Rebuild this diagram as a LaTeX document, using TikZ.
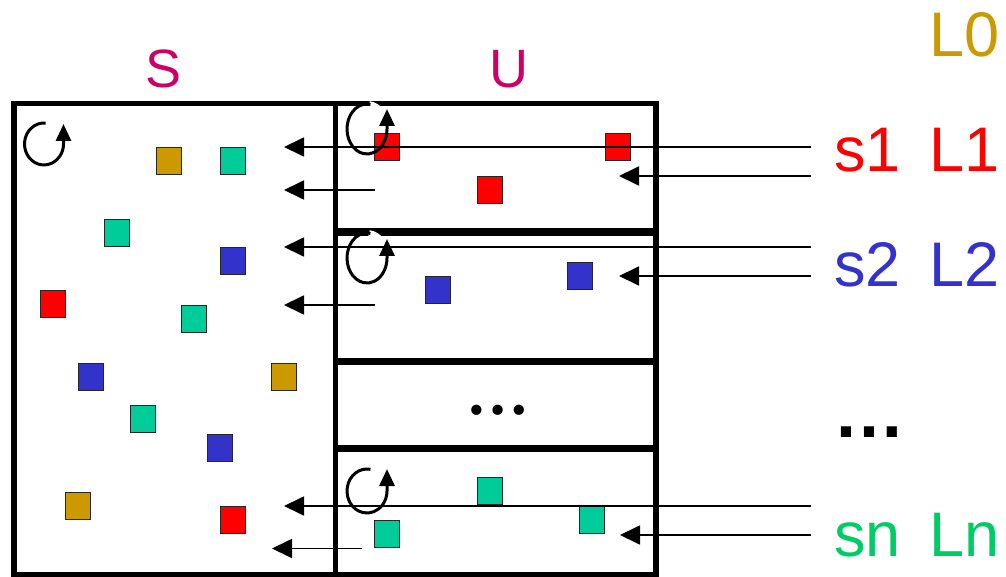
\documentclass[tikz,border=0pt]{standalone}
\usepackage{fontspec}
\setmainfont{Liberation Sans}
\newfontfamily\serifdots{Liberation Serif}
\usetikzlibrary{arrows.meta}
\definecolor{sqred}{HTML}{FF0000}
\definecolor{sqblue}{HTML}{3333CC}
\definecolor{sqteal}{HTML}{00CC99}
\definecolor{sqgold}{HTML}{CC9900}
\definecolor{labmag}{HTML}{CC0066}
\definecolor{labgreen}{HTML}{00CC66}
\tikzset{
  box/.style={draw=black, line width=5.5pt, rectangle, inner sep=0pt},
  sq/.style={rectangle, draw=black!85, line width=1.4pt, minimum width=25.5pt, minimum height=27.5pt, inner sep=0pt, fill=#1},
  conn/.style={line width=1.8pt, -{Triangle[length=20pt,width=19pt]}},
  ringarrow/.style={line width=3pt, -{Triangle[length=17pt,width=15pt]}},
  biglabel/.style={font=\fontsize{63}{70}\selectfont, inner sep=0pt, anchor=base west},
  midlabel/.style={font=\fontsize{54}{60}\selectfont, inner sep=0pt, text=labmag, anchor=base},
}
\begin{document}
\begin{tikzpicture}[x=1pt,y=-1pt]
\useasboundingbox (0,0) rectangle (1006,577);

% boxes
\node[box, minimum width=321.5pt, minimum height=471pt] (Sbox) at (174.75,339) {};
\node[box, minimum width=320.5pt, minimum height=127pt] (U1) at (495.75,167) {};
\node[box, minimum width=320.5pt, minimum height=127pt] (U2) at (495.75,297) {};
\node[box, minimum width=320.5pt, minimum height=85pt] (U3) at (495.75,405) {};
\node[box, minimum width=320.5pt, minimum height=125pt] (U4) at (495.75,512) {};

% squares in S
\node[sq=sqgold] (a1) at (169,161) {};
\node[sq=sqteal] (a2) at (233,161) {};
\node[sq=sqteal] (a3) at (117,233) {};
\node[sq=sqblue] (a4) at (233,261) {};
\node[sq=sqred]  (a5) at (53,304) {};
\node[sq=sqteal] (a6) at (194,319) {};
\node[sq=sqblue] (a7) at (91,377) {};
\node[sq=sqgold] (a8) at (284,377) {};
\node[sq=sqteal] (a9) at (143,419) {};
\node[sq=sqblue] (a10) at (220,448) {};
\node[sq=sqgold] (a11) at (78,506) {};
\node[sq=sqred]  (a12) at (233,520) {};
% squares in U
\node[sq=sqred]  (b1) at (387,147) {};
\node[sq=sqred]  (b2) at (618,147) {};
\node[sq=sqred]  (b3) at (490,190) {};
\node[sq=sqblue] (c1) at (438,290) {};
\node[sq=sqblue] (c2) at (580,276) {};
\node[sq=sqteal] (d1) at (490,491) {};
\node[sq=sqteal] (d2) at (387,534) {};
\node[sq=sqteal] (d3) at (592,520) {};

% dots
\node[font=\serifdots\bfseries\fontsize{63}{70}\selectfont, inner sep=0pt, anchor=base] (dotsU) at (497.5,414) {…};
\node[font=\bfseries\fontsize{72}{80}\selectfont, inner sep=0pt, anchor=base] (dotsR) at (869.5,437) {…};

% connector end points
\coordinate (r1) at (811,147);  \coordinate (t1) at (284,147);
\coordinate (r2) at (811,176);  \coordinate (t2) at (619,176);
\coordinate (r3) at (375,190);  \coordinate (t3) at (284,190);
\coordinate (r4) at (811,247);  \coordinate (t4) at (284,247);
\coordinate (r5) at (811,276);  \coordinate (t5) at (619,276);
\coordinate (r6) at (375,305);  \coordinate (t6) at (284,305);
\coordinate (r7) at (811,506);  \coordinate (t7) at (284,506);
\coordinate (r8) at (811,535);  \coordinate (t8) at (620,535);
\coordinate (r9) at (362,548.5);\coordinate (t9) at (272,548.5);

% white gaps where rings meet the borders
\coordinate (k1) at (367,129);
\coordinate (k2) at (367,258);
\draw[white, line width=6pt] (k1) ++(84:20pt and 25pt) arc[start angle=84, end angle=40, x radius=20pt, y radius=25pt];
\draw[white, line width=6pt] (k2) ++(84:20pt and 25pt) arc[start angle=84, end angle=40, x radius=20pt, y radius=25pt];

\foreach \a/\b in {r1/t1,r2/t2,r3/t3,r4/t4,r5/t5,r6/t6,r7/t7,r8/t8,r9/t9}
  \draw[conn] (\a) -- (\b);

% rotation rings
\coordinate (k0) at (44,144);
\coordinate (k4) at (367,491);
\draw[ringarrow] (k0) ++(85:19.5pt and 21pt) arc[start angle=85, end angle=360, x radius=19.5pt, y radius=21pt] -- ++(0,-20);
\draw[ringarrow] (k1) ++(80:20pt and 25pt) arc[start angle=80, end angle=360, x radius=20pt, y radius=25pt] -- ++(0,-20);
\draw[ringarrow] (k2) ++(80:20pt and 25pt) arc[start angle=80, end angle=360, x radius=20pt, y radius=25pt] -- ++(0,-19);
\draw[ringarrow] (k4) ++(80:20pt and 22pt) arc[start angle=80, end angle=360, x radius=20pt, y radius=22pt] -- ++(0,-22);

% labels
\node[midlabel] (lS) at (164,88) {S};
\node[midlabel] (lU) at (509,88) {U};
\node[biglabel, text=sqgold] (L0) at (929,57) {L0};
\node[biglabel, text=sqred] (s1) at (834,172) {s1};
\node[biglabel, text=sqred] (L1) at (929,172) {L1};
\node[biglabel, text=sqblue] (s2) at (834,287) {s2};
\node[biglabel, text=sqblue] (L2) at (929,287) {L2};
\node[biglabel, text=labgreen] (sn) at (834,556) {sn};
\node[biglabel, text=labgreen] (Ln) at (929,556) {Ln};
\end{tikzpicture}
\end{document}
